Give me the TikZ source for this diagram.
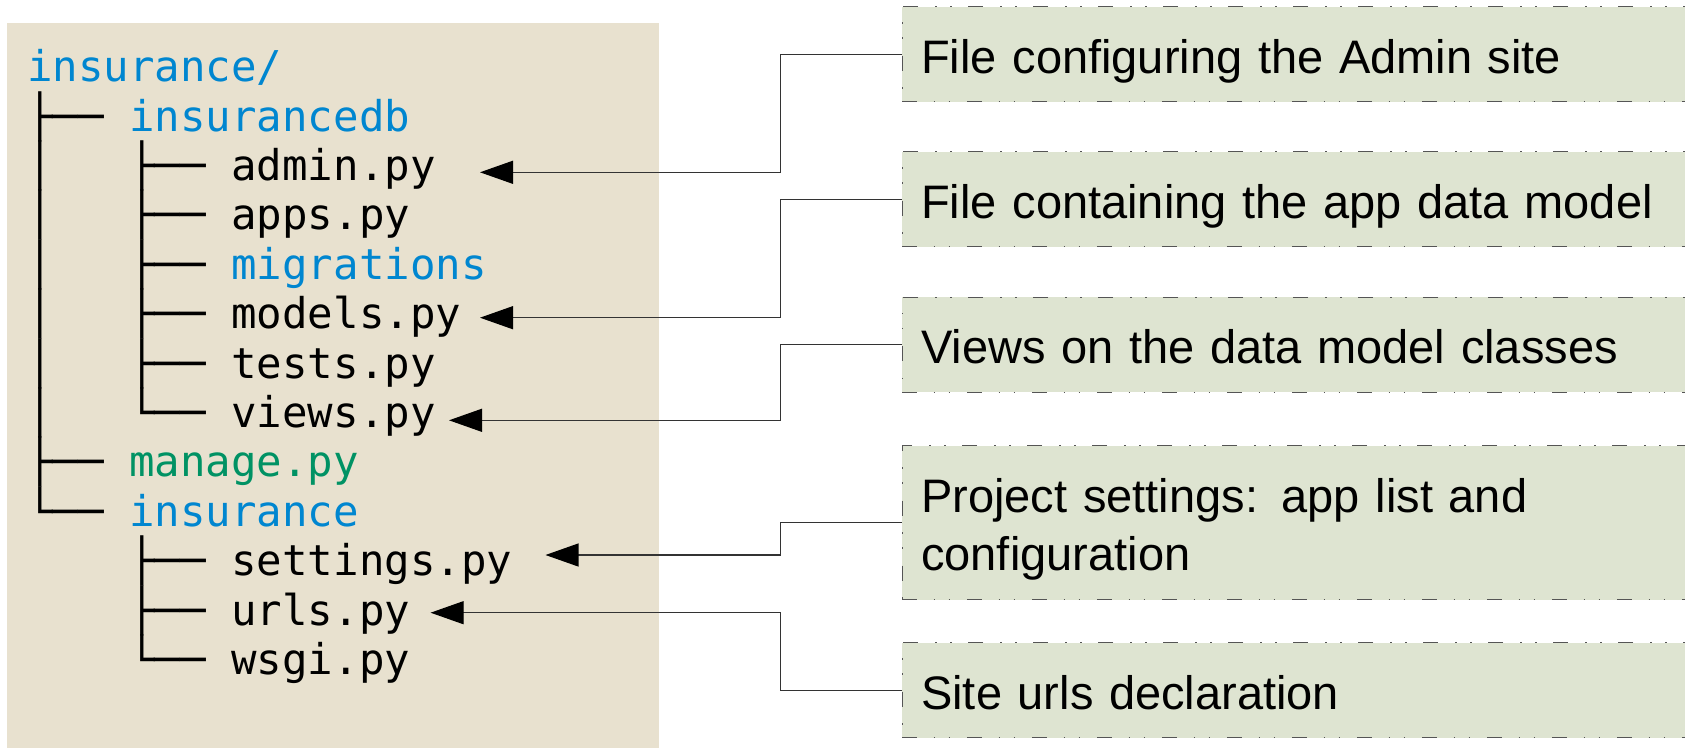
\documentclass[tikz,border=0pt]{standalone}
\usepackage{fontspec}
\usetikzlibrary{arrows.meta}
\newfontfamily\treefont{DejaVu Sans Mono}
\newfontfamily\notefont{Liberation Sans}
\definecolor{panelbeige}{RGB}{232,225,207}
\definecolor{notegreen}{RGB}{222,228,209}
\definecolor{dirblue}{RGB}{0,134,208}
\definecolor{scriptgreen}{RGB}{0,146,100}
\definecolor{edgegray}{RGB}{85,85,85}
\tikzset{
  tree/.style={anchor=base west, inner sep=0pt, font=\fontsize{42.4}{49.4}\treefont},
  note/.style={anchor=west, rectangle, fill=notegreen, draw=edgegray, line width=1pt,
    dash pattern=on 15pt off 16.5pt on 1.5pt off 13.5pt on 1.5pt off 17pt,
    text width=800pt, align=left, inner xsep=19pt, inner ysep=0pt,
    minimum height=95pt, text height=38pt, text depth=0pt,
    font=\fontsize{47}{58}\notefont},
  pointer/.style={-{Triangle[length=33pt,width=23pt,color=black]}, line width=1.2pt, black!80},
}
\begin{document}
\begin{tikzpicture}[x=1pt,y=-1pt]
    \useasboundingbox (0,0) rectangle (1685,747);
    \clip (0,0) rectangle (1685,747);

    % Project panel
    \fill[panelbeige] (7,23.3) rectangle (659,760);

    % Directory tree
    \node[tree] (root) at (27,81.7) {\textcolor{dirblue}{insurance/}};
    \node[tree] (appdir) at (27,131.1) {├── \textcolor{dirblue}{insurancedb}};
    \node[tree] (admin) at (27,180.5) {│~~~├── admin.py};
    \node[tree] (apps) at (27,229.9) {│~~~├── apps.py};
    \node[tree] (migrations) at (27,279.3) {│~~~├── \textcolor{dirblue}{migrations}};
    \node[tree] (models) at (27,328.7) {│~~~├── models.py};
    \node[tree] (tests) at (27,378.1) {│~~~├── tests.py};
    \node[tree] (views) at (27,427.5) {│~~~└── views.py};
    \node[tree] (manage) at (27,476.9) {├── \textcolor{scriptgreen}{manage.py}};
    \node[tree] (projdir) at (27,526.3) {└── \textcolor{dirblue}{insurance}};
    \node[tree] (settings) at (27,575.7) {~~~~├── settings.py};
    \node[tree] (urls) at (27,625.1) {~~~~├── urls.py};
    \node[tree] (wsgi) at (27,674.5) {~~~~└── wsgi.py};

    % Notes
    \node[note] (adminnote) at (901.7,54.2) {File configuring the Admin site};
    \node[note] (modelnote) at (901.7,199.2) {File containing the app data model};
    \node[note] (viewnote) at (901.7,344.8) {Views on the data model classes};
    \node[note, minimum height=154pt, text depth=58pt] (settingnote) at (901.7,522.7)
        {Project settings: app list and\\configuration};
    \node[note] (urlnote) at (901.7,690.2) {Site urls declaration};

    % Arrow tips next to the files
    \coordinate (admintip) at (480,172.3);
    \coordinate (modeltip) at (480,317.7);
    \coordinate (viewtip) at (449,420.3);
    \coordinate (settingtip) at (545.5,555);
    \coordinate (urltip) at (430.6,612.7);

    % Connectors
    \draw[pointer] (adminnote.west) -- ++(-121,0) |- (admintip);
    \draw[pointer] (modelnote.west) -- ++(-121,0) |- (modeltip);
    \draw[pointer] (viewnote.west) -- ++(-121,0) |- (viewtip);
    \draw[pointer] (settingnote.west) -- ++(-121,0) |- (settingtip);
    \draw[pointer] (urlnote.west) -- ++(-121,0) |- (urltip);
\end{tikzpicture}
\end{document}
